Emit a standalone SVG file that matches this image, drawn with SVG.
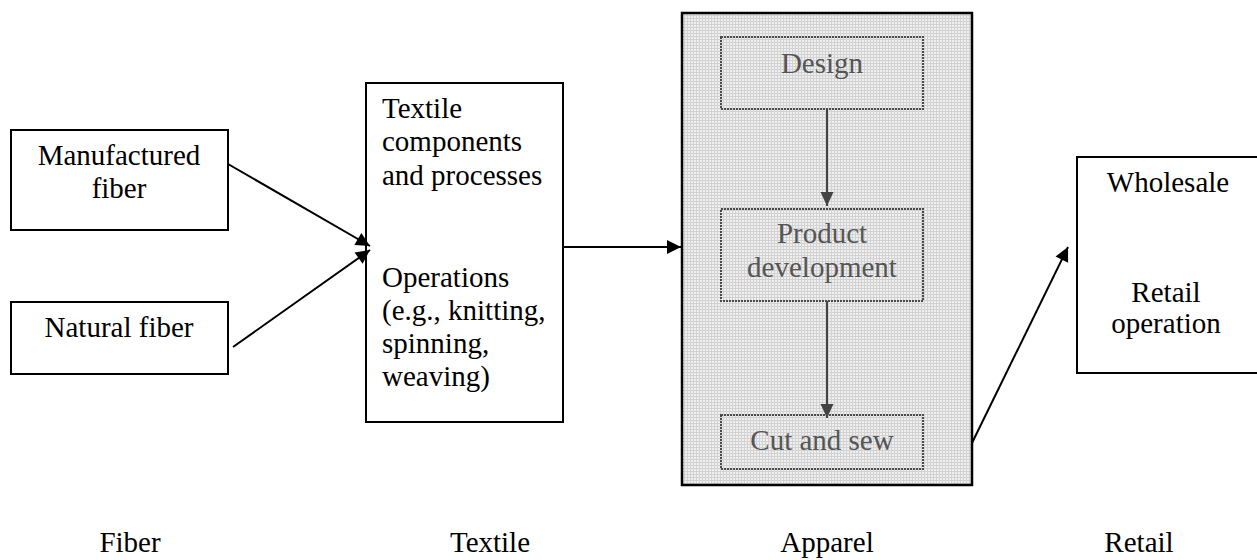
<svg xmlns="http://www.w3.org/2000/svg" width="1257" height="560" viewBox="0 0 1257 560">
  <style>
    .box { fill: #ffffff; stroke: #000000; stroke-width: 2; }
    .inner { fill: none; stroke: #4a4a4a; stroke-width: 2; stroke-dasharray: 2 1; }
    text { font-family: "Liberation Serif", Tinos, "Times New Roman", Times, "Noto Serif", "DejaVu Serif", serif; font-size: 29px; fill: #000000; }
    .g { fill: #555555; }
    .mid { text-anchor: middle; }
    .link { stroke: #000000; stroke-width: 2; fill: none; }
    .flow { stroke: #444444; stroke-width: 2; fill: none; }
  </style>
  <defs>
    <pattern id="grid" width="3" height="3" patternUnits="userSpaceOnUse">
      <rect width="3" height="3" fill="#efefef"/>
      <rect width="3" height="1" fill="#d2d2d2"/>
      <rect width="1" height="3" fill="#d2d2d2"/>
    </pattern>
    <marker id="head" markerUnits="userSpaceOnUse" markerWidth="16" markerHeight="16" viewBox="0 0 16 16" refX="15" refY="8" orient="auto">
      <path d="M1,1 L15,8 L1,15 Z" fill="#000000"/>
    </marker>
    <marker id="headGray" markerUnits="userSpaceOnUse" markerWidth="16" markerHeight="16" viewBox="0 0 16 16" refX="15" refY="8" orient="auto">
      <path d="M1,1.5 L15,8 L1,14.5 Z" fill="#444444"/>
    </marker>
  </defs>

  <!-- Fiber stage -->
  <g id="manufactured-fiber">
    <rect class="box" x="11" y="130" width="217" height="100"/>
    <text class="mid" x="119" y="165">Manufactured</text>
    <text class="mid" x="119" y="198">fiber</text>
  </g>
  <g id="natural-fiber">
    <rect class="box" x="11" y="302" width="217" height="72"/>
    <text class="mid" x="119" y="337">Natural fiber</text>
  </g>

  <!-- Textile stage -->
  <g id="textile">
    <rect class="box" x="366" y="83" width="197" height="339"/>
    <text x="382" y="118">Textile</text>
    <text x="382" y="151">components</text>
    <text x="382" y="185">and processes</text>
    <text x="382" y="287">Operations</text>
    <text x="382" y="320">(e.g., knitting,</text>
    <text x="382" y="353">spinning,</text>
    <text x="382" y="386">weaving)</text>
  </g>

  <!-- Apparel stage -->
  <g id="apparel">
    <rect x="682" y="13" width="290" height="472" fill="url(#grid)" stroke="#000000" stroke-width="2.5"/>
  </g>
  <g id="design">
    <rect class="inner" x="721" y="37" width="202" height="72"/>
    <text class="g mid" x="822" y="73">Design</text>
  </g>
  <g id="product-development">
    <rect class="inner" x="721" y="209" width="202" height="92"/>
    <text class="g mid" x="822" y="243">Product</text>
    <text class="g mid" x="822" y="277">development</text>
  </g>
  <g id="cut-and-sew">
    <rect class="inner" x="721" y="415" width="202" height="54"/>
    <text class="g mid" x="822" y="450">Cut and sew</text>
  </g>

  <!-- Retail stage -->
  <g id="retail">
    <rect class="box" x="1077" y="157" width="182" height="216"/>
    <text class="mid" x="1168" y="192">Wholesale</text>
    <text class="mid" x="1166" y="302">Retail</text>
    <text class="mid" x="1166" y="333">operation</text>
  </g>

  <!-- Connectors -->
  <g id="connectors">
    <line class="link" x1="228" y1="164" x2="370" y2="246" marker-end="url(#head)"/>
    <line class="link" x1="233" y1="347" x2="370" y2="250" marker-end="url(#head)"/>
    <line class="link" x1="563" y1="247" x2="681" y2="247" marker-end="url(#head)"/>
    <line class="flow" x1="827" y1="109" x2="827" y2="206" marker-end="url(#headGray)"/>
    <line class="flow" x1="827" y1="301" x2="827" y2="418" marker-end="url(#headGray)"/>
    <line class="link" x1="972" y1="443" x2="1068" y2="247" marker-end="url(#head)"/>
  </g>

  <!-- Stage labels -->
  <g id="stage-labels">
    <text class="mid" x="130" y="552">Fiber</text>
    <text class="mid" x="490" y="552">Textile</text>
    <text class="mid" x="827" y="552">Apparel</text>
    <text class="mid" x="1139" y="552">Retail</text>
  </g>
</svg>
